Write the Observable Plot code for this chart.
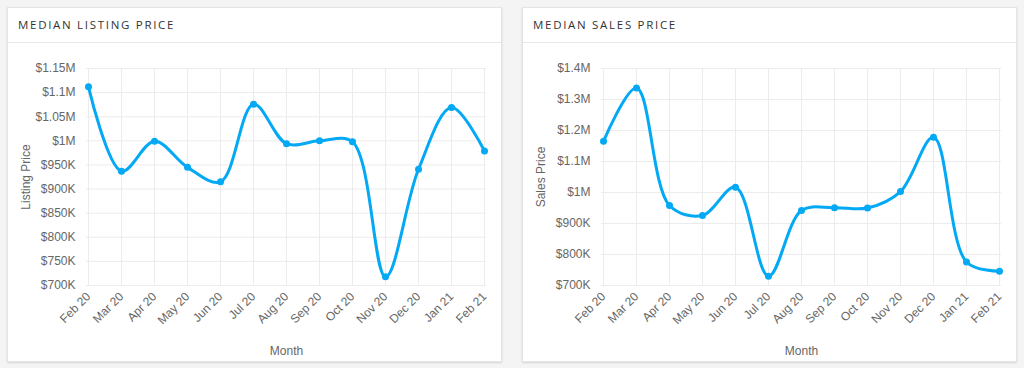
<!DOCTYPE html>
<html><head><meta charset="utf-8">
<script src="https://cdn.jsdelivr.net/npm/d3@7"></script>
<script src="https://cdn.jsdelivr.net/npm/@observablehq/plot@0.6"></script>
<style>
body{margin:0;background:#f4f4f4;width:1024px;height:368px;overflow:hidden;font-family:"Liberation Sans",Arial,sans-serif;}
.card{position:absolute;top:7px;width:495px;height:355px;background:#fff;border:1px solid #e4e4e4;box-shadow:0 1px 2px rgba(0,0,0,.12);box-sizing:border-box;}
.hdr{height:35px;border-bottom:1px solid #e8e8e8;box-sizing:border-box;padding-left:10px;line-height:33px;font-family:"Open Sans",sans-serif;font-size:11.5px;letter-spacing:1.7px;color:#333;}
.card svg{display:block;}
</style>
</head><body>
<div class="card" id="c1" style="left:7px"><div class="hdr">MEDIAN LISTING PRICE</div></div>
<div class="card" id="c2" style="left:522px"><div class="hdr">MEDIAN SALES PRICE</div></div>
<script>
const months = ["Feb 20","Mar 20","Apr 20","May 20","Jun 20","Jul 20","Aug 20","Sep 20","Oct 20","Nov 20","Dec 20","Jan 21","Feb 21"];
const listingPrices = [1112000, 937000, 999000, 945000, 915000, 1076000, 994000, 1000000, 998000, 718000, 941000, 1069000, 979000];
const salesPrices = [1165000, 1337000, 958000, 926000, 1017000, 730000, 942000, 951000, 950000, 1003000, 1178000, 776000, 746000];
const listingTicks = [700000, 750000, 800000, 850000, 900000, 950000, 1000000, 1050000, 1100000, 1150000];
const salesTicks = [700000, 800000, 900000, 1000000, 1100000, 1200000, 1300000, 1400000];

function fmt(v) {
  if (v >= 1e6) return "$" + (+(v / 1e6).toFixed(2)) + "M";
  return "$" + Math.round(v / 1e3) + "K";
}

function chart(values, ticks, ylabel) {
  const data = months.map((m, i) => ({month: m, value: values[i]}));
  return Plot.plot({
    width: 493, height: 318,
    marginLeft: 78, marginRight: 15, marginTop: 25, marginBottom: 76,
    style: {fontFamily: '"Liberation Sans", Arial, sans-serif', fontSize: "12px", color: "#666", background: "transparent", overflow: "visible"},
    x: {type: "point", domain: months, padding: 0},
    y: {domain: [ticks[0], ticks[ticks.length - 1]]},
    marks: [
      Plot.gridX(months, {stroke: "#ececec", strokeOpacity: 1}),
      Plot.gridY(ticks, {stroke: "#ececec", strokeOpacity: 1}),
      Plot.axisX(months, {tickSize: 0, tickPadding: 9, tickRotate: -45, fill: "#666", label: "Month", labelAnchor: "center", labelArrow: "none", labelOffset: 69}),
      Plot.axisY(ticks, {tickSize: 0, tickPadding: 11, tickFormat: fmt, fill: "#666", label: ylabel, labelAnchor: "center", labelArrow: "none", labelOffset: 65}),
      Plot.line(data, {x: "month", y: "value", stroke: "#03A9F4", strokeWidth: 3, curve: "catmull-rom"}),
      Plot.dot(data, {x: "month", y: "value", fill: "#03A9F4", r: 3.5})
    ]
  });
}

document.getElementById("c1").appendChild(chart(listingPrices, listingTicks, "Listing Price"));
document.getElementById("c2").appendChild(chart(salesPrices, salesTicks, "Sales Price"));
</script>
</body></html>
